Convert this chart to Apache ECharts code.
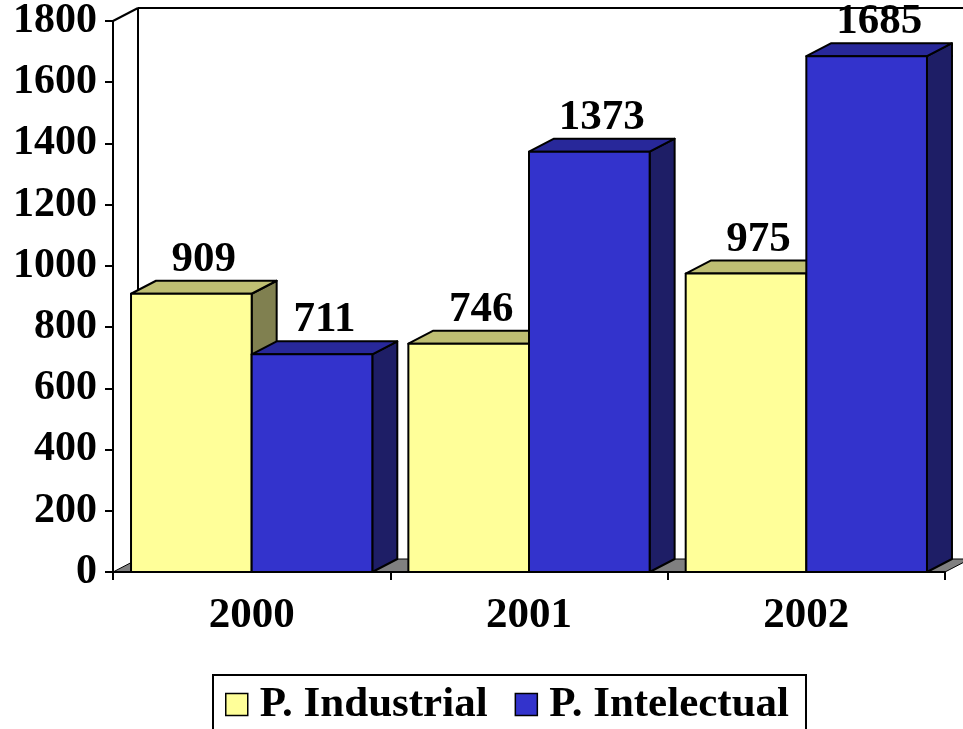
<!DOCTYPE html>
<html>
<head>
<meta charset="utf-8">
<script src="https://cdn.jsdelivr.net/npm/echarts@6/dist/echarts.min.js"></script>
<style>
  html, body { margin: 0; padding: 0; background: #fff; }
  #mainC { width: 963px; height: 729px; }
</style>
</head>
<body>
<div id="mainC"></div>
<script>
// data
var years = ['2000', '2001', '2002'];
var industrial = [909, 746, 975];
var intelectual = [711, 1373, 1685];
var yTicks = [0, 200, 400, 600, 800, 1000, 1200, 1400, 1600, 1800];

var FONT = '"Liberation Serif", "Times New Roman", serif';
var DX = 25, DY = -13;   // 3d depth offset in px
var BAR = 0.435;         // bar width as part of the band

// faces: front, top, side
var skins = [
  { front: '#FFFF99', top: '#BFBF73', side: '#808050' },
  { front: '#3333CC', top: '#28289A', side: '#1E1E66' }
];

function barRender(idx) {
  return function (params, api) {
    var i = api.value(0), v = api.value(1);
    var top = api.coord([i, v]);
    var base = api.coord([i, 0]);
    var band = api.size([1, 0])[0];
    var w = band * BAR;
    var x0 = idx === 0 ? top[0] - w : top[0];
    var x1 = x0 + w;
    var yT = top[1], yB = base[1];
    var sk = skins[idx];
    var line = { stroke: '#000', lineWidth: 2, lineJoin: 'round' };
    return {
      type: 'group',
      children: [
        { type: 'polygon', shape: { points: [[x1, yT], [x1 + DX, yT + DY], [x1 + DX, yB + DY], [x1, yB]] },
          style: Object.assign({ fill: sk.side }, line) },
        { type: 'polygon', shape: { points: [[x0, yT], [x0 + DX, yT + DY], [x1 + DX, yT + DY], [x1, yT]] },
          style: Object.assign({ fill: sk.top }, line) },
        { type: 'rect', shape: { x: x0, y: yT, width: w, height: yB - yT },
          style: Object.assign({ fill: sk.front }, line) },
        { type: 'text', z2: 10,
          style: { text: String(v), x: (x0 + x1) / 2 + DX / 2, y: yT - 34,
                   align: 'center', verticalAlign: 'middle',
                   font: 'bold 43px ' + FONT, fill: '#000' } }
      ]
    };
  };
}

function frameRender(params, api) {
  var band = api.size([1, 0])[0];
  var n = years.length;
  var left = api.coord([0, 0])[0] - band / 2;
  var right = api.coord([n - 1, 0])[0] + band / 2;
  var yB = api.coord([0, 0])[1];
  var yT = api.coord([0, yTicks[yTicks.length - 1]])[1];
  var st = { stroke: '#000', lineWidth: 2 };
  return {
    type: 'group',
    children: [
      { type: 'polygon', shape: { points: [[left, yB], [left + DX, yB + DY], [right + DX, yB + DY], [right, yB]] },
        style: { fill: '#808080', stroke: '#000', lineWidth: 1 } },
      { type: 'line', shape: { x1: left + DX, y1: yT + DY, x2: left + DX, y2: yB + DY }, style: st },
      { type: 'line', shape: { x1: left, y1: yT, x2: left + DX, y2: yT + DY }, style: st },
      { type: 'line', shape: { x1: left + DX, y1: yT + DY, x2: right + DX, y2: yT + DY }, style: st }
    ]
  };
}

var chart = echarts.init(document.getElementById('mainC'));
var option = {
  animation: false,
  backgroundColor: '#fff',
  grid: { left: 113, right: 18, top: 20, bottom: 157 },
  legend: {
    left: 213, top: 675,
    padding: [8, 17, 30, 12],
    itemGap: 27, itemWidth: 22, itemHeight: 22,
    borderColor: '#000', borderWidth: 2,
    textStyle: { fontFamily: FONT, fontWeight: 'bold', fontSize: 43, color: '#000', padding: [0, 0, 0, 7] },
    data: [
      { name: 'P. Industrial', icon: 'rect', itemStyle: { color: '#FFFF99', borderColor: '#000', borderWidth: 1.5 } },
      { name: 'P. Intelectual', icon: 'rect', itemStyle: { color: '#3333CC', borderColor: '#000', borderWidth: 1.5 } }
    ]
  },
  xAxis: {
    type: 'category',
    data: years,
    z: 5,
    axisLine: { lineStyle: { color: '#000', width: 2 } },
    axisTick: { show: true, length: 8, interval: 0, lineStyle: { color: '#000', width: 2 } },
    axisLabel: { margin: 22, fontFamily: FONT, fontWeight: 'bold', fontSize: 43, color: '#000' }
  },
  yAxis: {
    type: 'value',
    min: yTicks[0], max: yTicks[yTicks.length - 1], interval: yTicks[1] - yTicks[0],
    z: 5,
    axisLine: { show: true, lineStyle: { color: '#000', width: 2 } },
    axisTick: { show: true, length: 8, lineStyle: { color: '#000', width: 2 } },
    splitLine: { show: false },
    axisLabel: { margin: 16, fontFamily: FONT, fontWeight: 'bold', fontSize: 42, color: '#000',
                 formatter: function (v) { return String(v); } }
  },
  series: [
    { type: 'custom', name: 'frame', z: 1, silent: true, data: [[0, 0]], renderItem: frameRender },
    { type: 'custom', name: 'P. Industrial', z: 2, itemStyle: { color: '#FFFF99' },
      data: industrial.map(function (v, i) { return [i, v]; }), renderItem: barRender(0) },
    { type: 'custom', name: 'P. Intelectual', z: 3, itemStyle: { color: '#3333CC' },
      data: intelectual.map(function (v, i) { return [i, v]; }), renderItem: barRender(1) }
  ]
};
chart.setOption(option);
</script>
</body>
</html>
